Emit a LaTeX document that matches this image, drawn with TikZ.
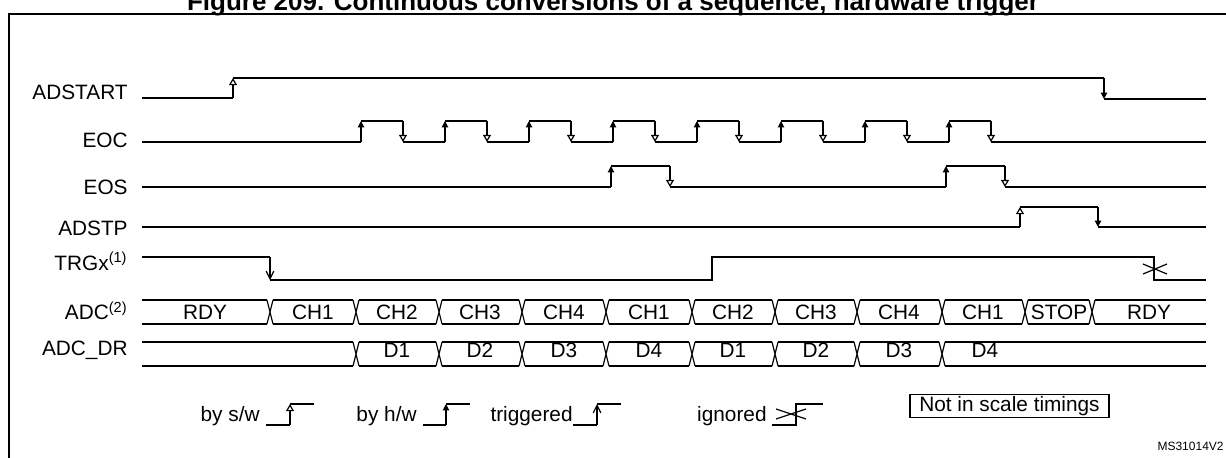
\documentclass[tikz,border=0pt]{standalone}
\usepackage{fontspec}
\setmainfont{Liberation Sans}
\usetikzlibrary{arrows.meta}
\tikzset{
  sig/.style={line width=0.6pt},
  sw/.style={-{Triangle[open,length=3.6pt,width=4pt]}},
  hw/.style={-{Triangle[length=3.2pt,width=3.2pt]}},
  trig/.style={-{Straight Barb[length=3.8pt,width=3.8pt]}},
  txt/.style={inner sep=0pt,font=\fontsize{10.4}{12.5}\selectfont},
  lbl/.style={txt,anchor=base east},
}
\begin{document}
\begin{tikzpicture}[x=0.5pt,y=-0.5pt]
\useasboundingbox (0,0) rectangle (1226,457);
\clip (0,0) rectangle (1226,457);
% frame and title
\draw[line width=1pt] (1240,14) -- (9,14) -- (9,470);
\node[anchor=base,inner sep=0pt,font=\bfseries\fontsize{13}{15}\selectfont] (title) at (613,10)
  {Figure 209. Continuous conversions of a sequence, hardware trigger};
% signal names
\foreach \y/\s [count=\i] in {99.5/ADSTART,147.5/EOC,194.5/EOS,235/ADSTP,270/TRGx\textsuperscript{(1)},319.5/ADC\textsuperscript{(2)},355.5/ADC\_DR}
  \node[lbl] (name\i) at (128,\y) {\s};
% ADSTART
\draw[sig] (142,98) -- (233,98);
\draw[sig,sw] (233,98) -- (233,78);
\draw[sig] (233,78) -- (1104,78);
\draw[sig,hw] (1104,78) -- (1104,99);
\draw[sig] (1104,99) -- (1206,99);
% EOC
\draw[sig] (142,142) -- (361,142);
\foreach \i in {0,...,7}{
  \pgfmathsetmacro\xr{361+84*\i}
  \pgfmathsetmacro\xf{\xr+42}
  \pgfmathsetmacro\xn{ifthenelse(\i==7,1206,\xr+84)}
  \draw[sig,hw] (\xr,142) -- (\xr,121);
  \draw[sig] (\xr,121) -- (\xf,121);
  \draw[sig,sw] (\xf,121) -- (\xf,142);
  \draw[sig] (\xf,142) -- (\xn,142);
}
% EOS
\draw[sig] (142,187) -- (611,187) (670,187) -- (946,187) (1005,187) -- (1206,187);
\foreach \xr/\xf in {611/670,946/1005}{
  \draw[sig,hw] (\xr,187) -- (\xr,166);
  \draw[sig] (\xr,166) -- (\xf,166);
  \draw[sig,sw] (\xf,166) -- (\xf,187);
}
% ADSTP
\draw[sig] (142,227) -- (1020,227);
\draw[sig,sw] (1020,227) -- (1020,207);
\draw[sig] (1020,207) -- (1098,207);
\draw[sig,hw] (1098,207) -- (1098,227);
\draw[sig] (1098,227) -- (1206,227);
% TRGx
\draw[sig] (142,257) -- (270,257);
\draw[sig,trig] (270,257) -- (270,280);
\draw[sig] (270,280) -- (712,280) -- (712,257) -- (1154,257) -- (1154,280) -- (1206,280);
\draw[sig] (1143,264) -- (1167,274) (1143,274) -- (1167,264);
% ADC
\foreach \t [remember=\t as \p (initially 139)] in {270,356,439,522,606,692,775,857,942,1025,1092,1209}
  \draw[sig] (\p+3,300) -- (\t-3,300) (\p+3,324) -- (\t-3,324);
\foreach \t in {270,356,439,522,606,692,775,857,942,1025,1092}
  \draw[sig] (\t-3,300) -- (\t+3,324) (\t-3,324) -- (\t+3,300);
\foreach \x/\s [count=\i] in {205/RDY,313/CH1,397/CH2,480/CH3,564/CH4,649/CH1,733/CH2,816/CH3,899/CH4,983/CH1,1059/STOP,1149/RDY}
  \node[txt,anchor=base] (adc\i) at (\x,319.5) {\s};
% ADC_DR
\foreach \t [remember=\t as \p (initially 139)] in {356,439,522,606,692,775,857,942,1209}
  \draw[sig] (\p+3,342) -- (\t-3,342) (\p+3,366) -- (\t-3,366);
\foreach \t in {356,439,522,606,692,775,857,942}
  \draw[sig] (\t-3,342) -- (\t+3,366) (\t-3,366) -- (\t+3,342);
\foreach \x/\s [count=\i] in {397/D1,480/D2,564/D3,649/D4,733/D1,816/D2,899/D3,985/D4}
  \node[txt,anchor=base] (dr\i) at (\x,357) {\s};
% legend
\node[lbl] (ksw) at (260,421) {by s/w};
\draw[sig] (266,425) -- (290,425);
\draw[sig,sw] (290,425) -- (290,404);
\draw[sig] (290,404) -- (314,404);
\node[lbl] (khw) at (417,421) {by h/w};
\draw[sig] (423,425) -- (446,425);
\draw[sig,hw] (446,425) -- (446,404);
\draw[sig] (446,404) -- (470,404);
\node[lbl] (ktrig) at (573,421) {triggered};
\draw[sig] (573,425) -- (597,425);
\draw[sig,trig] (597,425) -- (597,404);
\draw[sig] (597,404) -- (621,404);
\node[lbl] (kign) at (767,421) {ignored};
\draw[sig] (772,425) -- (796,425) -- (796,404) -- (823,404);
\draw[sig] (776,409) -- (806,419) (776,419) -- (806,409);
\node[txt,draw,line width=0.6pt,minimum width=99.5pt,minimum height=11.5pt] (scale) at (1009.5,406) {Not in scale timings};
\node[anchor=base east,inner sep=0pt,font=\fontsize{6}{7.5}\selectfont] (code) at (1224,450) {MS31014V2};
\end{tikzpicture}
\end{document}
